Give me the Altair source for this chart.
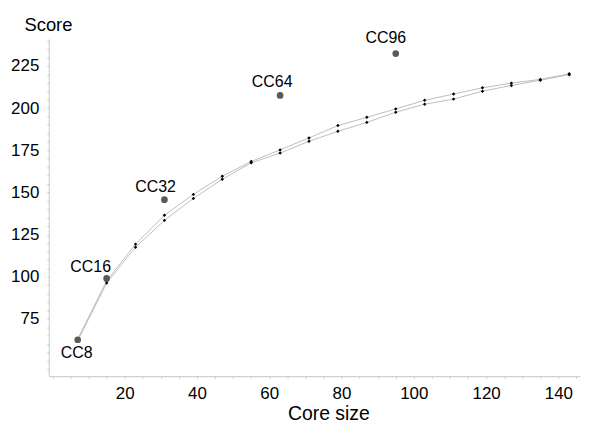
import altair as alt
import pandas as pd

# Core sizes
core_size = [7, 15, 23, 31, 39, 47, 55, 63, 71, 79, 87, 95, 103, 111, 119, 127, 135, 143]
# Two replicate series of scores
score_upper = [63.0, 97.5, 119.3, 136.4, 148.8, 159.6, 168.3, 175.2, 182.3, 189.6,
               194.5, 199.5, 204.6, 208.3, 212.0, 214.8, 217.0, 220.3]
score_lower = [62.0, 96.2, 117.5, 133.4, 146.4, 157.8, 167.5, 173.3, 180.3, 186.2,
               191.5, 197.5, 202.3, 205.3, 210.0, 213.4, 216.5, 219.8]

# Highlighted points
cc_labels = ["CC8", "CC16", "CC32", "CC64", "CC96"]
cc_x = [7, 15, 31, 63, 95]
cc_y = [62.6, 99.0, 145.7, 207.5, 232.3]

rows = []
for x, u, l in zip(core_size, score_upper, score_lower):
    rows.append({"x": x, "y": u, "series": "upper"})
    rows.append({"x": x, "y": l, "series": "lower"})
df = pd.DataFrame(rows)
cc = pd.DataFrame({"label": cc_labels, "x": cc_x, "y": cc_y})

FONT = "Liberation Sans"

xscale = alt.Scale(domain=[-1, 146], nice=False, zero=False)
yscale = alt.Scale(domain=[41, 241], nice=False, zero=False)

xaxis = alt.Axis(
    values=list(range(0, 146, 5)),
    labelExpr="datum.value % 20 == 0 && datum.value > 0 ? datum.label : ''",
    labelOverlap=False, labelBound=False, labelFlush=False, grid=False, tickSize=2,
    tickColor="#c8c8c8", domainColor="#c8c8c8", labelFont=FONT, labelFontSize=17,
    labelColor="black", labelPadding=7, title="Core size", titleFont=FONT,
    titleFontSize=19.5, titleFontWeight="normal", titleColor="black", titleX=281,
    titleY=44, titleAlign="center", titleBaseline="alphabetic",
)
yaxis = alt.Axis(
    values=list(range(45, 241, 5)),
    labelExpr="datum.value % 25 == 0 && datum.value >= 75 && datum.value <= 225 ? datum.label : ''",
    labelOverlap=False, labelBound=False, labelFlush=False, grid=False, tickSize=2,
    tickColor="#c8c8c8", domainColor="#c8c8c8", labelFont=FONT, labelFontSize=17,
    labelColor="black", labelPadding=8, title="Score", titleFont=FONT,
    titleFontSize=18.5, titleFontWeight="normal", titleColor="black", titleAngle=0,
    titleX=-25, titleY=-8, titleAlign="left", titleBaseline="alphabetic",
)

X = alt.X("x:Q", scale=xscale, axis=xaxis)
Y = alt.Y("y:Q", scale=yscale, axis=yaxis)

base = alt.Chart(df)
lines = base.mark_line(color="#bdbdbd", strokeWidth=1).encode(
    x=X, y=Y, detail="series:N",
)
pts = base.mark_point(shape="diamond", filled=True, color="black", size=12, opacity=1).encode(
    x=X, y=Y,
)
ccpts = alt.Chart(cc).mark_circle(color="#5a5a5a", size=45, opacity=1).encode(
    x=X, y=Y,
)

offsets = {"CC8": (-1, 13), "CC16": (-16, -11), "CC32": (-9, -13),
           "CC64": (-8, -13), "CC96": (-10, -16)}
texts = []
for lab in cc_labels:
    dx, dy = offsets[lab]
    texts.append(
        alt.Chart(cc).transform_filter(alt.datum.label == lab).mark_text(
            font=FONT, fontSize=16, color="black", dx=dx, dy=dy,
            align="center", baseline="middle",
        ).encode(x=X, y=Y, text="label:N")
    )

chart = alt.layer(lines, pts, ccpts, *texts).properties(
    width=534, height=339,
    autosize=alt.AutoSizeParams(type="none"),
    padding={"left": 41, "top": 30, "right": 12, "bottom": 50},
    background="white",
).configure_view(stroke=None)

chart.save("out.html", embed_options={"renderer": "svg", "actions": False})
